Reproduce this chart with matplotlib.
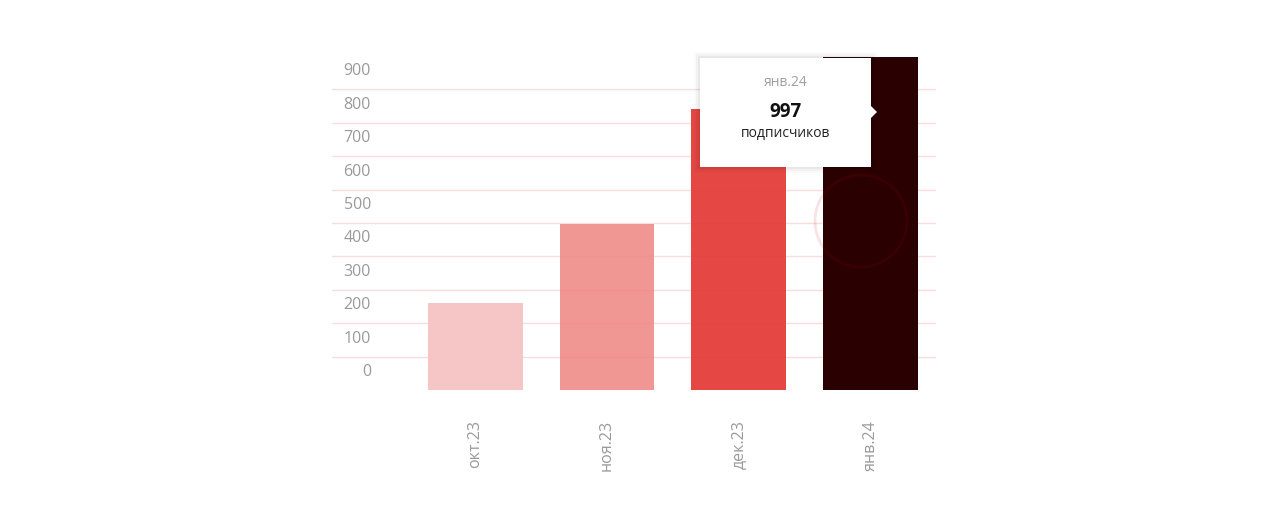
import matplotlib.pyplot as plt
from matplotlib.colors import to_rgba
from matplotlib.patches import Rectangle, Circle, Polygon

plt.rcParams['font.family'] = ['Open Sans', 'DejaVu Sans']

months = ['окт.23', 'ноя.23', 'дек.23', 'янв.24']
subscribers = [260, 497, 841, 997]
colors = ['#f6c2c2', '#ef8d8a', '#e33d3a', '#2a0000']
opacity = [0.92, 0.92, 0.95, 1.0]
yticks = [0, 100, 200, 300, 400, 500, 600, 700, 800, 900]

W, H = 1271, 516
fig = plt.figure(figsize=(W / 100, H / 100), dpi=100)


def fx(x):
    return x / W


def fy(y):
    return 1 - y / H


ax = fig.add_axes([fx(332), fy(390), fx(936) - fx(332), fy(56) - fy(390)])
ax.set_xlim(-1.09, 3.5)
ax.set_ylim(0, 1000)

for v in yticks[1:]:
    ax.axhline(v, color='#fbdcdc', lw=1, zorder=0)

x = range(len(months))
ax.bar(x, subscribers, width=0.72,
       color=[to_rgba(c, a) for c, a in zip(colors, opacity)], zorder=2)

# y labels sit above their grid lines
for v in yticks:
    ax.annotate(str(v), xy=(0, v), xycoords=('axes fraction', 'data'),
                xytext=(39, 18), textcoords='offset pixels',
                ha='right', va='center', fontsize=11.5, color='#9a9a9a')

for i, m in enumerate(months):
    ax.annotate(m, xy=(i, 0), xycoords='data', xytext=(0, -30),
                textcoords='offset pixels', rotation=90,
                ha='center', va='top', fontsize=11.5, color='#9a9a9a')

for s in ax.spines.values():
    s.set_visible(False)
ax.set_xticks([])
ax.set_yticks([])

# hover circle on the last bar
ax.add_patch(Circle((861, H - 221), 46, transform=None, fill=False,
                    ec=(0.75, 0.0, 0.0, 0.11), lw=2, zorder=4))

# tooltip with soft shadow
bx0, by0, bx1, by1 = 700, 58, 871, 167
for k, a in [(6, 0.02), (4, 0.03), (2, 0.04)]:
    fig.patches.append(Rectangle((fx(bx0 - k), fy(by1 + k)),
                                 fx(bx1 - bx0 + 2 * k), (by1 - by0 + 2 * k) / H,
                                 transform=fig.transFigure, fc='black',
                                 alpha=a, ec='none', zorder=5))
fig.patches.append(Rectangle((fx(bx0), fy(by1)), fx(bx1 - bx0), (by1 - by0) / H,
                             transform=fig.transFigure, fc='white', ec='none',
                             zorder=6))
fig.patches.append(Polygon([(fx(bx1), fy(106)), (fx(bx1 + 6), fy(112)),
                            (fx(bx1), fy(118))], closed=True,
                           transform=fig.transFigure, fc='white', ec='none',
                           zorder=6))
cx = fx((bx0 + bx1) / 2)
fig.text(cx, fy(82), months[-1], ha='center', va='center', fontsize=10,
         color='#a0a0a0', zorder=7)
fig.text(cx, fy(112), str(subscribers[-1]), ha='center', va='center',
         fontsize=13.5, fontweight='bold', color='#111111', zorder=7)
fig.text(cx, fy(134), 'подписчиков', ha='center', va='center', fontsize=10,
         color='#222222', zorder=7)

fig.savefig('out.png', dpi=100)
